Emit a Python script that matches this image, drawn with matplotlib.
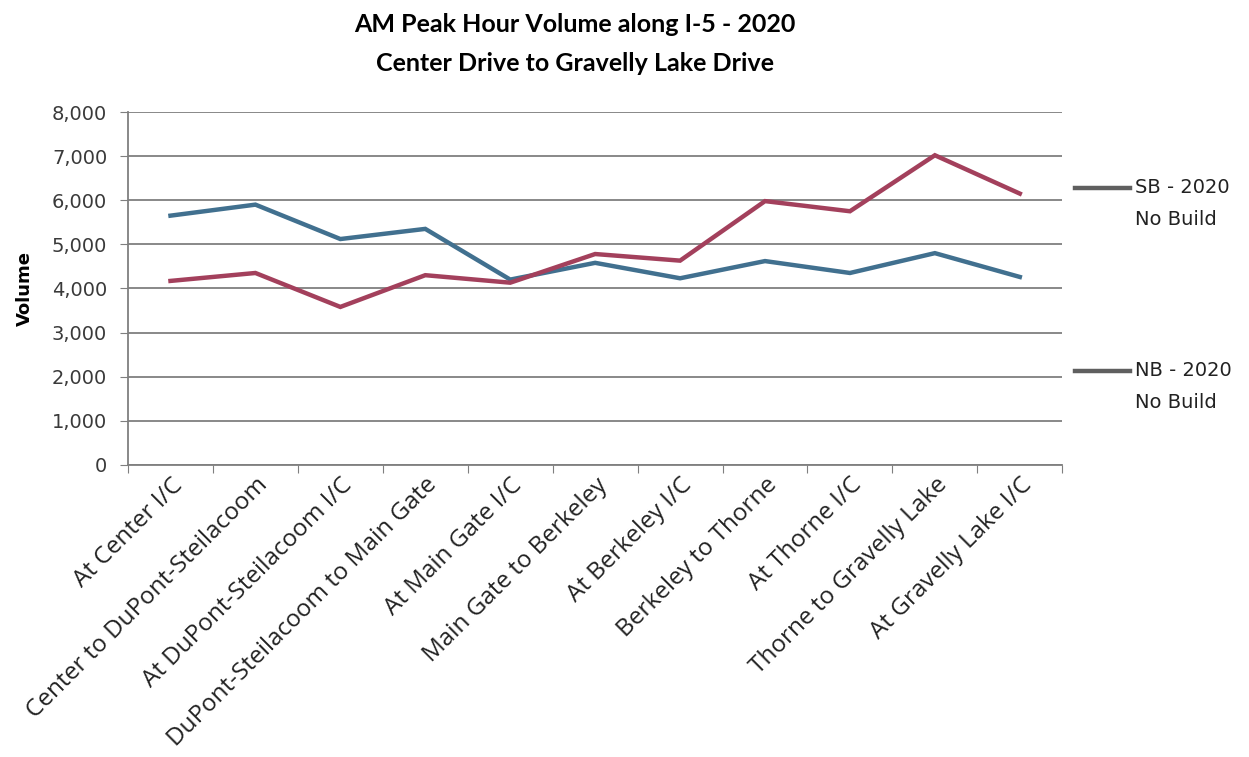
import matplotlib
matplotlib.use("Agg")
import matplotlib.pyplot as plt
from matplotlib.lines import Line2D
from matplotlib.ticker import FuncFormatter, FixedLocator
import numpy as np

# -----------------------------
# Data
# -----------------------------
segments = [
    "At Center I/C",
    "Center to DuPont-Steilacoom",
    "At DuPont-Steilacoom I/C",
    "DuPont-Steilacoom to Main Gate",
    "At Main Gate I/C",
    "Main Gate to Berkeley",
    "At Berkeley I/C",
    "Berkeley to Thorne",
    "At Thorne I/C",
    "Thorne to Gravelly Lake",
    "At Gravelly Lake I/C",
]
sb_2020 = [5650, 5900, 5120, 5350, 4200, 4580, 4230, 4620, 4350, 4800, 4260]
nb_2020 = [4170, 4350, 3580, 4300, 4130, 4780, 4630, 5980, 5750, 7020, 6150]
series_labels = ["SB - 2020\nNo Build", "NB - 2020\nNo Build"]

# -----------------------------
# Figure
# -----------------------------
fig = plt.figure(figsize=(12.49, 7.57), dpi=100)
ax = fig.add_axes([0.1025, 0.386, 0.748, 0.466])

x = np.arange(len(segments))
ax.plot(x, sb_2020, color="#41708f", lw=3.2, solid_joinstyle="miter", zorder=3)
ax.plot(x, nb_2020, color="#a3405c", lw=3.2, solid_joinstyle="miter", zorder=3)

ax.set_xlim(-0.5, len(segments) - 0.5)
ax.set_ylim(0, 8000)
ax.set_yticks(range(0, 8001, 1000))
ax.yaxis.set_major_formatter(FuncFormatter(lambda v, p: f"{int(v):,}"))
ax.grid(axis="y", color="#7f7f7f", lw=1.3)
ax.set_axisbelow(True)

# category ticks between labels, labels at centers
ax.xaxis.set_major_locator(FixedLocator(np.arange(-0.5, len(segments) + 0.5, 1)))
ax.xaxis.set_major_formatter(FuncFormatter(lambda v, p: ""))
ax.xaxis.set_minor_locator(FixedLocator(x))
ax.set_xticklabels(segments, minor=True, rotation=45, ha="right",
                   rotation_mode="anchor", fontsize=17.5, color="#222222",
                   family="Open Sans")
ax.tick_params(axis="x", which="minor", length=0, pad=6)
ax.tick_params(axis="x", which="major", length=6, color="#7f7f7f", direction="out")
ax.tick_params(axis="y", length=6, color="#7f7f7f", labelsize=14,
               labelcolor="#3a3a3a", pad=9)

for side in ["top", "right"]:
    ax.spines[side].set_visible(False)
for side in ["left", "bottom"]:
    ax.spines[side].set_color("#7f7f7f")
    ax.spines[side].set_linewidth(1.3)

ax.set_ylabel("Volume", fontsize=13, fontweight="bold", labelpad=13)

# -----------------------------
# Title
# -----------------------------
fig.text(0.46, 0.967, "AM Peak Hour Volume along I-5 - 2020",
         ha="center", va="center", fontsize=18, fontweight="bold", family="Lato")
fig.text(0.46, 0.916, "Center Drive to Gravelly Lake Drive",
         ha="center", va="center", fontsize=18, fontweight="bold", family="Lato")

# -----------------------------
# Legend (right side)
# -----------------------------
for label, ly in zip(series_labels, [0.752, 0.510]):
    fig.add_artist(Line2D([0.861, 0.905], [ly, ly], color="#5f5f5f",
                          lw=3.2, transform=fig.transFigure))
    fig.text(0.909, ly + 0.013, label, ha="left", va="top",
             fontsize=14, color="#222222", linespacing=1.85)

plt.savefig("out.png", dpi=100)
plt.close()
